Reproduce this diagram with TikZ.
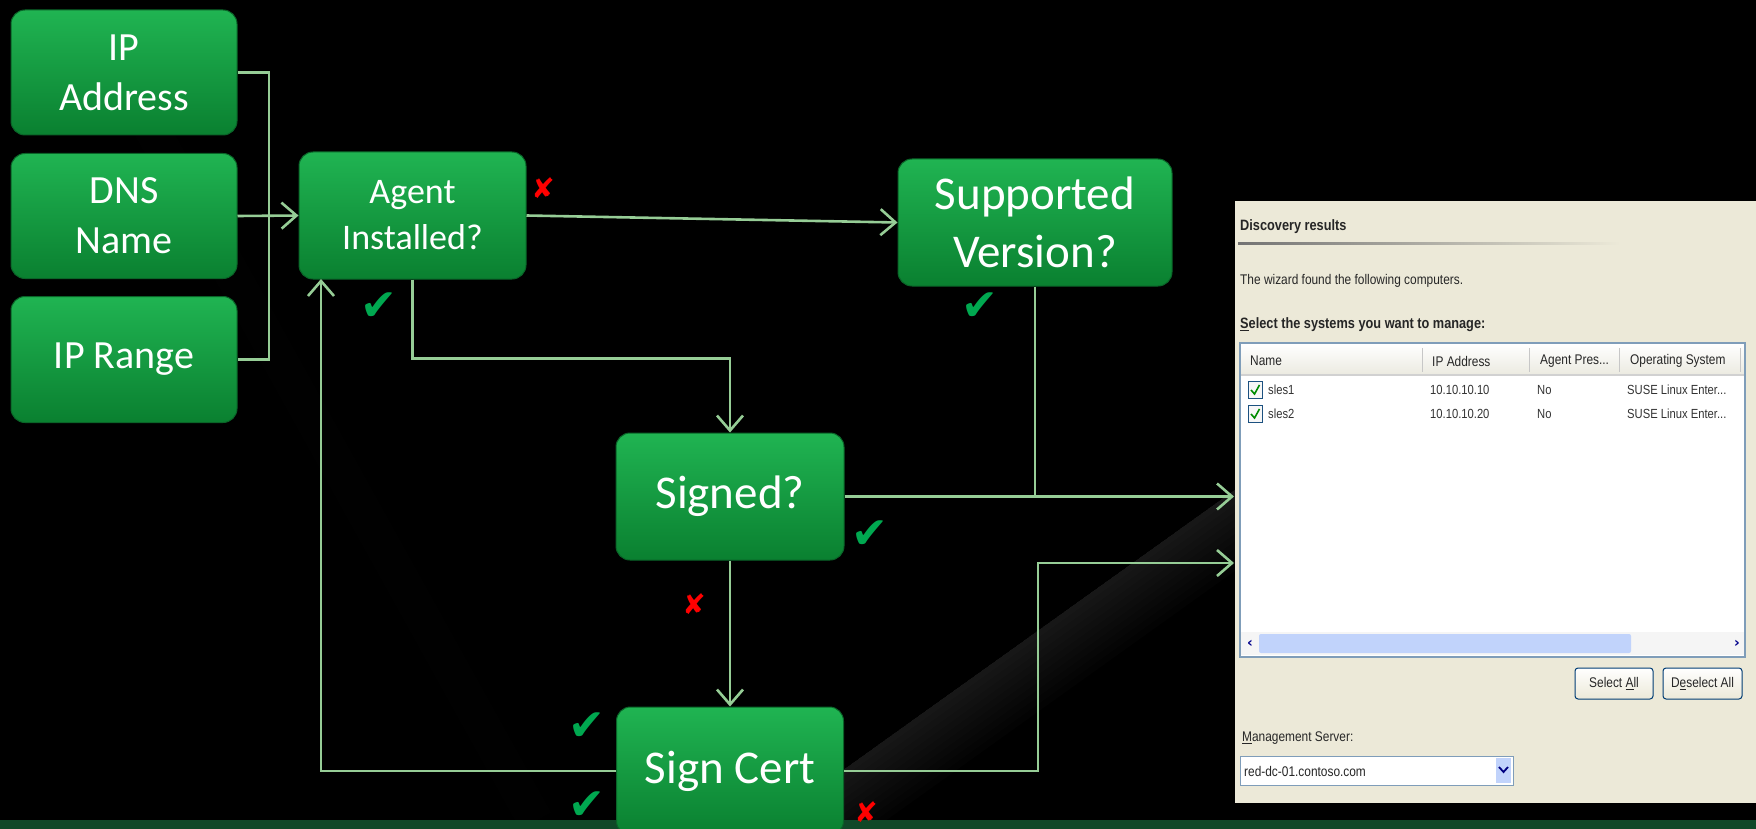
\documentclass[tikz,border=0pt]{standalone}
\usepackage{fontspec}
\setmainfont{Carlito}
\newfontfamily\xp[FakeStretch=0.85]{Liberation Sans}
\newfontfamily\sym{DejaVu Sans}
\usetikzlibrary{arrows.meta,calc}

\definecolor{connc}{RGB}{150,205,150}
\definecolor{boxtop}{RGB}{32,180,82}
\definecolor{boxbot}{RGB}{10,128,48}
\definecolor{boxedge}{RGB}{10,100,40}
\definecolor{chk}{RGB}{0,168,80}
\definecolor{xpbg}{RGB}{236,233,216}
\definecolor{xpborder}{RGB}{127,157,185}
\definecolor{xphead}{RGB}{235,234,224}
\definecolor{xpblue}{RGB}{193,211,251}
\definecolor{xpbtn}{RGB}{0,60,116}
\definecolor{stripc}{RGB}{16,72,40}

\tikzset{
  gbox/.style={rounded corners=14pt, top color=boxtop, bottom color=boxbot, draw=boxedge, line width=1pt,
    text=white, align=center, inner sep=0pt},
  connline/.style={draw=connc, line width=2.6pt},
  arr/.style={connline, -{Straight Barb[length=15pt,width=26pt,line width=2.6pt]}},
  okmark/.style={text=chk, font=\sym\fontsize{44}{44}\selectfont, inner sep=0pt},
  nomark/.style={text=red, font=\sym\bfseries\fontsize{28}{28}\selectfont, inner sep=0pt},
  xptext/.style={font=\xp\fontsize{14}{16}\selectfont, text=black!85, anchor=west, inner sep=0pt},
  xpbold/.style={font=\xp\bfseries\fontsize{15}{17}\selectfont, text=black!85, anchor=west, inner sep=0pt},
  xpsmall/.style={font=\xp\fontsize{13.2}{15}\selectfont, text=black!80, anchor=west, inner sep=0pt},
}

\begin{document}
\begin{tikzpicture}[x=1pt,y=-1pt]
\useasboundingbox (0,0) rectangle (1756,829);
\fill[black] (0,0) rectangle (1756,829);

% background light streaks
\foreach \w in {6,12,...,66}{
  \fill[white,opacity=0.011] (780,815) -- (1240,486) -- ($(1240,486)+\w*(0.581,0.814)$) -- ($(780,815)+\w*(0.581,0.814)$) -- cycle;
}
\foreach \w in {5,10,...,35}{
  \fill[white,opacity=0.005] (110,90) -- (520,829) -- ($(520,829)+\w*(0.882,-0.472)$) -- ($(110,90)+\w*(0.882,-0.472)$) -- cycle;
}

% bottom strip
\fill[stripc] (0,820) rectangle (1756,829);

% boxes
\node[gbox, minimum width=226pt, minimum height=125pt, font=\fontsize{40}{50}\selectfont] (ipa) at (124,72.5) {IP\\Address};
\node[gbox, minimum width=226pt, minimum height=125pt, font=\fontsize{40}{50}\selectfont] (dns) at (124,216) {DNS\\Name};
\node[gbox, minimum width=226pt, minimum height=126pt, font=\fontsize{40}{50}\selectfont] (ipr) at (124,359.5) {IP Range};
\node[gbox, minimum width=227pt, minimum height=127pt, font=\fontsize{36}{46}\selectfont] (agent) at (412.5,215.5) {Agent\\Installed?};
\node[gbox, minimum width=274pt, minimum height=127pt, font=\fontsize{47}{58}\selectfont] (sup) at (1035,222.5) {Supported\\Version?};
\node[gbox, minimum width=228pt, minimum height=127pt, font=\fontsize{47}{58}\selectfont] (signed) at (730,496.5) {Signed?};
\node[gbox, minimum width=227pt, minimum height=128pt, font=\fontsize{47}{58}\selectfont] (cert) at (730,771) {Sign Cert};

% screenshot panel
\fill[xpbg] (1235,201) rectangle (1756,803);
\node[xpbold] (s1) at (1240,227) {Discovery results};
\shade[left color=black!55, right color=xpbg] (1238,242.5) rectangle (1620,244);
\node[xptext] (s2) at (1240,281) {The wizard found the following computers.};
\node[xpbold] (s3) at (1240,325) {\underline{S}elect the systems you want to manage:};
\fill[white] (1240,343) rectangle (1745,657);
\shade[top color=white, bottom color=xphead] (1241,344) rectangle (1744,375);
\draw[black!18, line width=1.5pt] (1241,375) -- (1744,375);
\foreach \sx in {1422,1529,1619,1740}{ \draw[black!22, line width=1pt] (\sx,348) -- (\sx,372); }
\node[xptext] (h1) at (1250,361) {Name};
\node[xptext] (h2) at (1432,361) {IP Address};
\node[xptext] (h3) at (1540,361) {Agent Pres...};
\node[xptext] (h4) at (1630,361) {Operating System};
\foreach \ry/\nm/\ip in {390/sles1/10.10.10.10, 414/sles2/10.10.10.20}{
  \draw[draw={rgb,255:red,28;green,81;blue,128}, fill=black!3, line width=1pt] (1248,\ry-8.5) rectangle (1262,\ry+8.5);
  \draw[green!55!black, line width=1.6pt] (1251,\ry) -- (1254.5,\ry+4) -- (1259.5,\ry-5);
  \node[xpsmall] at (1268,\ry) {\nm};
  \node[xpsmall] at (1430,\ry) {\ip};
  \node[xpsmall] at (1537,\ry) {No};
  \node[xpsmall] at (1627,\ry) {SUSE Linux Enter...};
}
\fill[black!4] (1241,632) rectangle (1744,655);
\fill[xpblue, rounded corners=2pt] (1259,634) rectangle (1631,653);
\node[font=\sym\bfseries\fontsize{14}{14}\selectfont, text=blue!55!black, inner sep=0pt] (la) at (1250,643.5) {‹};
\node[font=\sym\bfseries\fontsize{14}{14}\selectfont, text=blue!55!black, inner sep=0pt] (ra) at (1737,643.5) {›};
\draw[xpborder, line width=1.2pt] (1240,343) rectangle (1745,657);
\draw[xpbtn, line width=1pt, rounded corners=3pt, top color=white, bottom color=xpbg] (1575,668) rectangle (1653,699);
\node[xptext, anchor=center] (b1) at (1614,683.5) {Select \underline{A}ll};
\draw[xpbtn, line width=1pt, rounded corners=3pt, top color=white, bottom color=xpbg] (1663,668) rectangle (1742,699);
\node[xptext, anchor=center] (b2) at (1702.5,683.5) {D\underline{e}select All};
\node[xptext] (s4) at (1242,738) {\underline{M}anagement Server:};
\draw[xpborder, fill=white, line width=1pt] (1240,756) rectangle (1513,785);
\node[xptext] (s5) at (1244,771) {red-dc-01.contoso.com};
\fill[xpblue] (1496,758) rectangle (1511,783);
\draw[blue!50!black, line width=1.8pt] (1499,767) -- (1503.5,772) -- (1508,767);

% connectors
\coordinate (jl) at (269,216);
\draw[connline] (ipa.east) -| (jl) |- (ipr.east);
\draw[arr] (dns.east) -- (agent.west);
\draw[arr] (agent.east) -- (sup.west);
\draw[arr] (agent.south) -- ++(0,79) -| (signed.north);
\draw[arr] (signed.south) -- (cert.north);
\coordinate (ab) at (321,279);
\draw[arr] (cert.west) -| (ab);
\coordinate (t1) at (1234,498);
\coordinate (t2) at (1234,563);
\draw[connline] (sup.south) -- (sup.south |- signed.east);
\draw[arr] (signed.east) -- (signed.east -| t1);
\draw[arr] (cert.east) -- ++(194,0) |- (t2);

% marks
\node[nomark] (x1) at (543,188) {✘};
\node[okmark] (c1) at (379,307) {✔};
\node[okmark] (c2) at (980,307) {✔};
\node[okmark] (c3) at (870,535) {✔};
\node[nomark] (x2) at (694,604) {✘};
\node[okmark] (c4) at (587,727) {✔};
\node[okmark] (c5) at (587,806) {✔};
\node[nomark] (x3) at (866,812) {✘};
\end{tikzpicture}
\end{document}
